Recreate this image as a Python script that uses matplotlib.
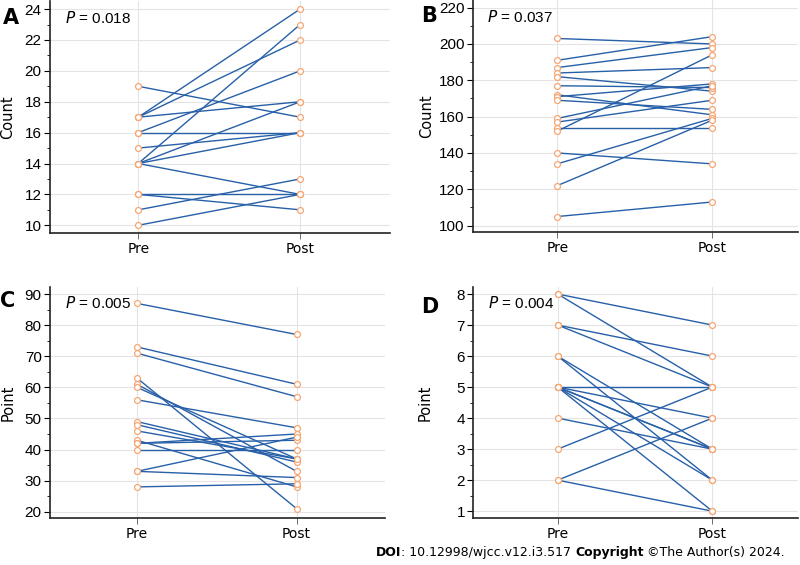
import numpy as np
import matplotlib
matplotlib.use("Agg")
import matplotlib.pyplot as plt
from matplotlib.ticker import MultipleLocator
from matplotlib.offsetbox import TextArea, HPacker, AnchoredOffsetbox

# paired values (pre -> post) per panel
groups = ["Pre", "Post"]

a_pre = [19, 17, 17, 17, 16, 16, 15, 14, 14, 14, 14, 12, 12, 11, 10]
a_post = [17, 24, 22, 18, 16, 20, 16, 23, 18, 16, 12, 12, 11, 13, 12]

b_pre = [203, 191, 187, 184, 182, 177, 172, 171, 169, 159, 157, 154, 152, 140, 134, 122, 105]
b_post = [200, 204, 198, 187, 174, 176, 161, 178, 164, 177, 169, 154, 194, 134, 159, 158, 113]

c_pre = [87, 73, 71, 63, 61, 60, 56, 49, 48, 46, 43, 42, 42, 40, 33, 33, 28]
c_post = [77, 61, 57, 21, 33, 37, 47, 37, 36, 37, 28, 45, 43, 40, 44, 31, 29]

d_pre = [8, 8, 7, 7, 6, 6, 5, 5, 5, 5, 5, 5, 4, 3, 2, 2]
d_post = [7, 5, 6, 5, 3, 2, 5, 4, 3, 3, 2, 1, 3, 5, 4, 1]

p_values = ["0.018", "0.037", "0.005", "0.004"]
letters = ["A", "B", "C", "D"]
ylabels = ["Count", "Count", "Point", "Point"]

LINE = "#2760a8"
DOT = "#f6a673"
GRID = "#e4e4e4"

fig = plt.figure(figsize=(8, 5.65), dpi=100)

# rect, ylim, major step, minor step, data, ylabel x
panels = [
    ([0.0625, 0.5876, 0.425, 0.41], (9.5, 24.5), 2, 1, a_pre, a_post, -0.102),
    ([0.591, 0.5894, 0.4066, 0.41], (96.5, 224), 20, 10, b_pre, b_post, -0.12),
    ([0.0625, 0.0832, 0.419, 0.409], (18, 92.3), 10, 5, c_pre, c_post, -0.104),
    ([0.5917, 0.0832, 0.406, 0.409], (0.78, 8.23), 1, 0.5, d_pre, d_post, -0.124),
]

for i, (rect, ylim, major, minor, pre, post, labx) in enumerate(panels):
    ax = fig.add_axes(rect)
    for y0, y1 in zip(pre, post):
        ax.plot([0, 1], [y0, y1], color=LINE, lw=1.0, zorder=2)
    ax.scatter(np.zeros(len(pre)), pre, s=18, facecolor="white",
               edgecolor=DOT, linewidth=0.9, zorder=3)
    ax.scatter(np.ones(len(post)), post, s=18, facecolor="white",
               edgecolor=DOT, linewidth=0.9, zorder=3)

    ax.set_xlim(-0.545, 1.555)
    ax.set_ylim(*ylim)
    ax.set_xticks([0, 1])
    ax.set_xticklabels(groups, fontsize=10, family="DejaVu Sans")
    ax.yaxis.set_major_locator(MultipleLocator(major))
    ax.yaxis.set_minor_locator(MultipleLocator(minor))
    for lab in ax.get_yticklabels():
        lab.set_family("Liberation Sans")
        lab.set_fontsize(11)
    ax.tick_params(axis="y", which="major", length=4, width=0.8, pad=2)
    ax.tick_params(axis="y", which="minor", length=2, width=0.6)
    ax.tick_params(axis="x", length=4, width=0.6, color="#555555", pad=2.5)

    ax.grid(True, color=GRID, lw=0.8, zorder=0)
    ax.set_axisbelow(True)
    for s in ["top", "right"]:
        ax.spines[s].set_visible(False)
    for s in ["left", "bottom"]:
        ax.spines[s].set_linewidth(1.2)
        ax.spines[s].set_color("#222222")

    ax.set_ylabel(ylabels[i], fontsize=10.5, family="DejaVu Sans")
    ax.yaxis.set_label_coords(labx, 0.5)

    ax.text(0.045, 0.93, "$\\it{P}$ = " + p_values[i], transform=ax.transAxes,
            fontsize=11, family="Liberation Sans", va="center")

# panel letters
letter_pos = [(0.003, 0.985), (0.527, 0.99), (0.0, 0.485), (0.527, 0.475)]
for lt, (x, y) in zip(letters, letter_pos):
    fig.text(x, y, lt, fontsize=15, fontweight="bold", family="DejaVu Sans",
             va="top", ha="left")

# footer
parts = [("DOI", "bold"), (": 10.12998/wjcc.v12.i3.517 ", "normal"),
         ("Copyright", "bold"), (" \u00a9The Author(s) 2024.", "normal")]
boxes = [TextArea(t, textprops=dict(fontsize=9, fontweight=w, family="DejaVu Sans"))
         for t, w in parts]
pack = HPacker(children=boxes, align="baseline", pad=0, sep=0)
anch = AnchoredOffsetbox(loc="lower right", child=pack, frameon=False,
                         bbox_to_anchor=(0.99, -0.002), bbox_transform=fig.transFigure,
                         borderpad=0.1)
fig.add_artist(anch)

fig.savefig("out.png", dpi=100)
